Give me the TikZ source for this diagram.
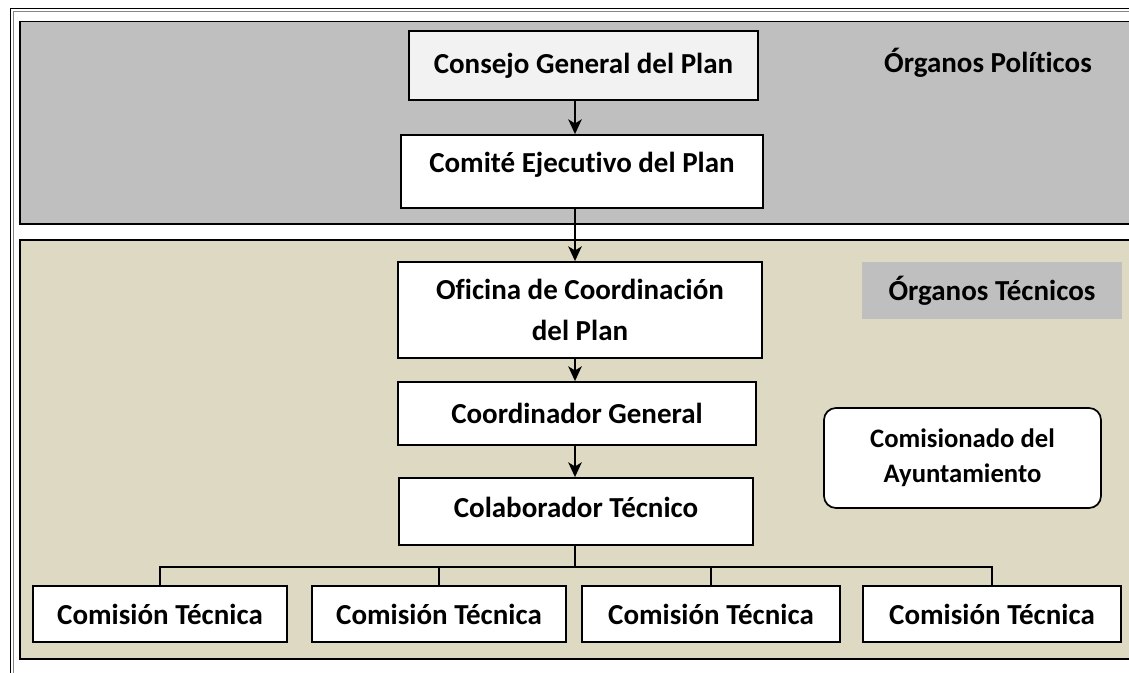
\documentclass[tikz,border=0pt]{standalone}
\usepackage{fontspec}
\setmainfont{Carlito}[RawFeature={-liga;-clig;-dlig}]
\usepackage{xcolor}
\definecolor{politicgray}{HTML}{BFBFBF}
\definecolor{tecnicbeige}{HTML}{DDD9C3}
\definecolor{boxlight}{HTML}{F2F2F2}
\usetikzlibrary{arrows.meta,positioning}

\tikzset{
    orgbox/.style={draw, line width=1.3pt, fill=white, inner sep=0pt, align=center,
        font=\fontsize{21.75}{30.75}\selectfont\bfseries},
    arrowline/.style={-{Stealth[length=11pt,width=10pt,inset=3pt]}, line width=2.2pt},
    treeline/.style={line width=2.2pt}
}

\begin{document}
\begin{tikzpicture}[x=0.75pt,y=-0.75pt]
    \useasboundingbox (0,0) rectangle (1129,673);

    % Outer frame (cut by the page)
    \draw[line width=1.4pt] (10.5,700) |- (1150,8.5);
    \draw[politicgray!70!black, line width=0.5pt] (13,700) |- (1150,11);

    % Political band
    \draw[fill=politicgray, line width=1.4pt] (20,21.5) rectangle (1150,224);
    % Technical band
    \draw[fill=tecnicbeige, line width=1.2pt] (20,240) rectangle (1150,659);

    % Political organs
    \node[orgbox, fill=boxlight, minimum width=261.75pt, minimum height=51.75pt] (consejo) at (583.5,65.5) {Consejo General del Plan};
    \node[orgbox, text depth=13.4pt, minimum width=271.5pt, minimum height=54.75pt] (comite) at (582,171.5) {Comité Ejecutivo del Plan};
    \node[font=\fontsize{21.75}{26}\selectfont\bfseries] (politicos) at (988,63) {Órganos Políticos};

    % Technical organs
    \node[orgbox, minimum width=273pt, minimum height=72pt] (oficina) at (580,310) {Oficina de Coordinación\\del Plan};
    \node[orgbox, minimum width=268.5pt, minimum height=47.25pt] (coordinador) at (577,413.5) {Coordinador General};
    \node[orgbox, text depth=6.75pt, minimum width=265.5pt, minimum height=50.25pt] (colaborador) at (576,511.5) {Colaborador Técnico};
    \node[orgbox, rounded corners=9pt, minimum width=207.75pt, minimum height=75pt,
        font=\fontsize{20}{26}\selectfont\bfseries] (comisionado) at (962.5,458) {Comisionado del\\Ayuntamiento};
    \node[fill=politicgray, inner sep=0pt, minimum width=195pt, minimum height=42.75pt,
        font=\fontsize{21.75}{26}\selectfont\bfseries] (tecnicos) at (992,290.5) {Órganos Técnicos};

    % Technical commissions
    \foreach \name/\cx/\w in {com1/160/190.5, com2/439/190.5, com3/711/193.5, com4/992/193.5} {
        \node[orgbox, minimum width=\w pt, minimum height=42pt] (\name) at (\cx,614) {Comisión Técnica};
    }

    % Connectors
    \coordinate (spine) at (575,0);
    \coordinate (bar) at (575,567);
    \draw[arrowline] (consejo.south -| spine) -- (comite.north -| spine);
    \draw[arrowline] (comite.south -| spine) -- (oficina.north -| spine);
    \draw[arrowline] (oficina.south -| spine) -- (coordinador.north -| spine);
    \draw[arrowline] (coordinador.south -| spine) -- (colaborador.north -| spine);

    \draw[treeline] (colaborador.south -| spine) -- (bar);
    \draw[treeline] (com1.north) |- (bar) -| (com4.north);
    \foreach \name in {com2, com3} {
        \draw[treeline] (\name.north) -- (\name.north |- bar);
    }
\end{tikzpicture}
\end{document}
